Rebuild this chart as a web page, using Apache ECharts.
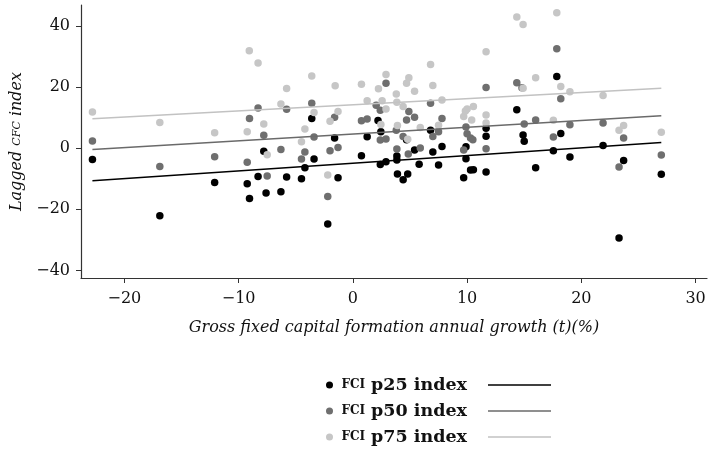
<!DOCTYPE html>
<html>
<head>
<meta charset="utf-8">
<script src="https://cdn.jsdelivr.net/npm/echarts@6/dist/echarts.min.js"></script>
<style>html,body{margin:0;padding:0;background:#fff}#chart{width:711px;height:450px}</style>
</head>
<body>
<div id="chart"></div>
<script>
const seriesNames = ['FCI p25 index', 'FCI p50 index', 'FCI p75 index'];
const fitNames = ['fit p25', 'fit p50', 'fit p75'];
const xTicks = [-20, -10, 0, 10, 20, 30];
const yTicks = [-40, -20, 0, 20, 40];

const p25Points = [
  [-22.8,-3.7],[-16.9,-22.1],[-12.1,-11.3],[-9.25,-11.7],[-9.05,-16.5],[-8.3,-9.3],[-7.8,-1.0],
  [-7.6,-14.7],[-6.3,-14.3],[-5.8,-9.5],[-4.5,-10.0],[-4.2,-6.4],[-3.6,9.7],[-3.4,-3.6],
  [-2.2,-24.8],[-1.6,3.3],[-1.3,-9.7],[0.75,-2.5],[1.25,3.7],[2.2,9.0],[2.45,5.3],[2.4,-5.4],
  [2.9,-4.5],[3.85,-2.6],[3.85,-3.9],[3.9,-8.5],[4.4,-10.4],[4.8,-8.5],[4.7,2.7],[5.4,-0.6],
  [5.8,-5.3],[6.8,5.8],[7.0,-1.3],[7.5,-5.5],[7.8,0.5],[9.7,-9.7],[9.9,0.4],[9.9,-3.5],
  [10.3,-7.2],[10.55,-7.1],[11.66,6.5],[11.66,3.9],[11.66,-7.8],[14.35,12.5],[14.9,4.3],
  [15.0,2.2],[16.0,-6.4],[17.55,-0.9],[17.85,23.4],[18.2,4.8],[19.0,-2.9],[21.9,0.85],
  [23.3,-29.4],[23.7,-4.1],[27.0,-8.6]
];
const p50Points = [
  [-22.8,2.3],[-16.9,-6.0],[-12.1,-2.8],[-9.05,9.7],[-9.25,-4.6],[-8.3,13.1],[-7.8,4.2],
  [-7.5,-9.1],[-6.3,-0.5],[-5.8,12.7],[-4.5,-3.6],[-4.2,-1.3],[-3.6,14.7],[-3.4,3.6],
  [-2.2,-15.8],[-2.0,-0.9],[-1.6,10.1],[-1.3,0.2],[0.75,8.9],[1.25,9.5],[2.04,14.0],
  [2.4,12.4],[2.4,2.6],[2.9,3.0],[2.9,21.2],[3.8,5.8],[3.85,-0.3],[4.4,3.8],[4.7,9.2],
  [4.85,-1.9],[4.9,12.0],[5.4,10.1],[5.9,0.0],[6.8,14.7],[7.0,3.8],[7.5,5.3],[7.8,9.7],
  [9.7,-0.6],[9.9,6.9],[10.0,4.7],[10.3,3.3],[10.5,2.7],[11.66,19.8],[11.66,-0.2],
  [14.35,21.4],[14.8,19.7],[15.0,7.9],[16.0,9.2],[17.55,3.6],[17.85,32.5],[18.2,16.1],
  [19.0,7.6],[21.9,8.2],[23.3,-6.2],[23.7,3.3],[27.0,-2.3]
];
const p75Points = [
  [-22.8,11.8],[-16.9,8.4],[-12.1,5.0],[-9.07,31.8],[-9.25,5.3],[-8.3,27.8],[-7.8,7.9],
  [-7.5,-2.2],[-6.3,14.4],[-5.8,19.5],[-4.5,2.1],[-4.2,6.2],[-3.6,23.6],[-3.4,11.6],
  [-2.2,-8.8],[-2.0,8.8],[-1.55,20.4],[-1.3,12.0],[0.75,20.9],[1.25,15.5],[2.24,19.4],
  [2.45,7.7],[2.56,15.5],[2.9,24.1],[2.9,12.8],[3.8,17.7],[3.85,15.0],[3.9,7.4],[4.4,13.6],
  [4.7,21.2],[4.8,2.9],[4.9,23.0],[5.4,18.6],[5.9,6.7],[6.8,27.3],[7.0,20.5],[7.5,7.5],
  [7.8,15.7],[9.7,10.3],[9.85,12.1],[10.0,12.8],[10.4,9.2],[10.55,13.6],[11.66,31.5],
  [11.66,10.8],[11.66,8.2],[14.35,42.9],[14.9,40.4],[14.9,19.6],[16.0,23.0],[17.55,9.1],
  [17.85,44.3],[18.2,20.1],[19.0,18.4],[21.9,17.2],[23.3,5.8],[23.7,7.4],[27.0,5.2]
];
const fitP25 = [[-22.8,-10.7],[27.0,1.8]];
const fitP50 = [[-22.8,-0.5],[27.0,10.6]];
const fitP75 = [[-22.8,9.6],[27.0,19.6]];

const colors = ['#000000', '#6f6f6f', '#c6c6c6'];
const lineColors = ['#000000', '#6a6a6a', '#c2c2c2'];
const FONT = 'DejaVu Serif';
const minus = v => String(v).replace('-', '\u2212');

const pointSets = [p25Points, p50Points, p75Points];
const fitSets = [fitP25, fitP50, fitP75];

const series = [];
pointSets.forEach((d, i) => series.push({
  name: seriesNames[i], type: 'scatter', data: d, symbol: 'circle', symbolSize: 7.5,
  itemStyle: { color: colors[i], opacity: 1 }, z: 2 + i
}));
fitSets.forEach((d, i) => series.push({
  name: fitNames[i], type: 'line', data: d, symbol: 'none',
  lineStyle: { color: lineColors[i], width: 1.5 }, itemStyle: { color: lineColors[i] }, z: 6
}));

const chart = echarts.init(document.getElementById('chart'));
chart.setOption({
  animation: false,
  grid: { left: 81, right: 4, top: 5, bottom: 172, containLabel: false },
  xAxis: {
    type: 'value', min: -23.8, max: 31.0,
    splitLine: { show: false },
    axisLine: { show: true, onZero: false, lineStyle: { color: '#333', width: 1.2 } },
    axisTick: { show: true, length: 5, customValues: xTicks, lineStyle: { color: '#333' } },
    axisLabel: { customValues: xTicks, formatter: minus, fontFamily: FONT, fontSize: 16, color: '#111', margin: 13 },
    name: 'Gross fixed capital formation annual growth (t)(%)',
    nameLocation: 'middle', nameGap: 42,
    nameTextStyle: { fontFamily: FONT, fontStyle: 'italic', fontSize: 16, color: '#111' }
  },
  yAxis: {
    type: 'value', min: -42.5, max: 46.8,
    splitLine: { show: false },
    axisLine: { show: true, onZero: false, lineStyle: { color: '#333', width: 1.2 } },
    axisTick: { show: true, length: 5, customValues: yTicks, lineStyle: { color: '#333' } },
    axisLabel: { customValues: yTicks, formatter: minus, fontFamily: FONT, fontSize: 16, color: '#111', margin: 11 },
    name: 'Lagged {sc|CFC} index',
    nameLocation: 'middle', nameGap: 56, nameRotate: 90,
    nameTextStyle: { fontFamily: FONT, fontStyle: 'italic', fontSize: 16, color: '#111',
      rich: { sc: { fontFamily: FONT, fontStyle: 'italic', fontSize: 11, color: '#111' } } }
  },
  legend: [
    {
      data: seriesNames, orient: 'vertical', left: 326, top: 375, padding: 0,
      icon: 'circle', itemWidth: 14, itemHeight: 7, itemGap: 6,
      formatter: n => '{sc|FCI} {m|' + n.slice(4) + '}',
      textStyle: { fontFamily: FONT, fontWeight: 'bold', fontSize: 17, color: '#111', lineHeight: 20,
        rich: { sc: { fontFamily: FONT, fontWeight: 'bold', fontSize: 12, color: '#111', lineHeight: 20 },
                m: { fontFamily: FONT, fontWeight: 'bold', fontSize: 17.5, color: '#111', lineHeight: 20 } } }
    },
    {
      data: fitNames, orient: 'vertical', left: 488, top: 375, padding: 0,
      icon: 'rect', itemWidth: 63, itemHeight: 1.5, itemGap: 6,
      formatter: () => ' ',
      textStyle: { fontSize: 17, lineHeight: 20 }
    }
  ],
  series: series
});
</script>
</body>
</html>
